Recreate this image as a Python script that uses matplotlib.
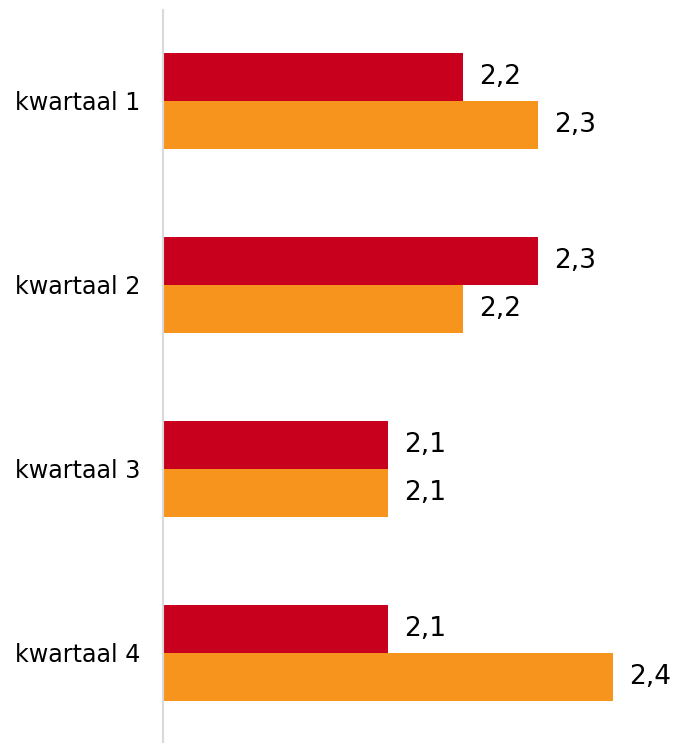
import numpy as np
import matplotlib.pyplot as plt

categories = ['kwartaal 1', 'kwartaal 2', 'kwartaal 3', 'kwartaal 4']
serie_rood = [2.2, 2.3, 2.1, 2.1]
serie_oranje = [2.3, 2.2, 2.1, 2.4]

rood = '#C8001E'
oranje = '#F7941E'

fig = plt.figure(figsize=(6.77, 7.43), dpi=100)
ax = fig.add_axes([163/677, 0, 1 - 163/677, 733/743])

y = np.arange(len(categories))
h = 0.26
ax.barh(y - h/2, serie_rood, height=h, color=rood, left=0)
ax.barh(y + h/2, serie_oranje, height=h, color=oranje, left=0)

ax.set_xlim(1.8, 1.8 + (677 - 163) / 750)
ax.set_ylim(3 + 90/184, -91/184)

for i in range(len(categories)):
    ax.text(serie_rood[i] + 0.022, y[i] - h/2, str(serie_rood[i]).replace('.', ','),
            va='center', ha='left', fontsize=19)
    ax.text(serie_oranje[i] + 0.022, y[i] + h/2, str(serie_oranje[i]).replace('.', ','),
            va='center', ha='left', fontsize=19)

ax.set_yticks(y)
ax.set_yticklabels(categories, fontsize=17.2)
ax.tick_params(axis='y', length=0, pad=16)
ax.set_xticks([])
for s in ['top', 'right', 'bottom']:
    ax.spines[s].set_visible(False)
ax.spines['left'].set_color('#d9d9d9')
ax.spines['left'].set_linewidth(1.5)

fig.savefig('out.png', dpi=100)
